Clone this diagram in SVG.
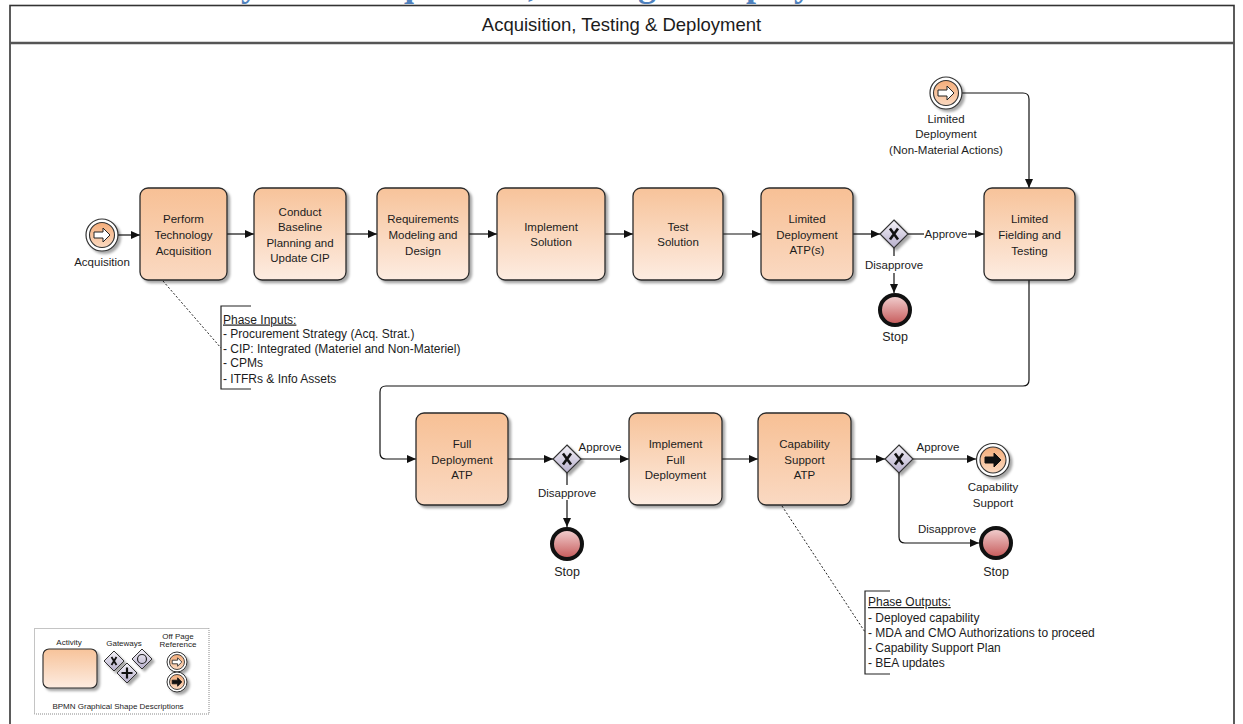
<svg xmlns="http://www.w3.org/2000/svg" width="1243" height="724" viewBox="0 0 1243 724">
  <defs>
    <linearGradient id="taskA" x1="0" y1="0" x2="0" y2="1">
      <stop offset="0" stop-color="#f7c095"/>
      <stop offset="1" stop-color="#fad9c2"/>
    </linearGradient>
    <linearGradient id="taskB" x1="0" y1="0" x2="0" y2="1">
      <stop offset="0" stop-color="#f7c39a"/>
      <stop offset="1" stop-color="#fdece1"/>
    </linearGradient>
    <linearGradient id="gate" x1="0" y1="0" x2="0" y2="1">
      <stop offset="0" stop-color="#f4f2f8"/>
      <stop offset="1" stop-color="#b7afcc"/>
    </linearGradient>
    <linearGradient id="evt" x1="0" y1="0" x2="0" y2="1">
      <stop offset="0" stop-color="#f4ad7a"/>
      <stop offset="1" stop-color="#fbd9c0"/>
    </linearGradient>
    <linearGradient id="stop" x1="0" y1="0" x2="0" y2="1">
      <stop offset="0" stop-color="#f3d3d3"/>
      <stop offset="1" stop-color="#c55757"/>
    </linearGradient>
    <filter id="shadow" x="-20%" y="-20%" width="150%" height="150%">
      <feDropShadow dx="2.5" dy="2.5" stdDeviation="1.3" flood-color="#000" flood-opacity="0.35"/>
    </filter>
    <marker id="arrow" markerUnits="userSpaceOnUse" markerWidth="9" markerHeight="8" refX="9" refY="4" orient="auto">
      <path d="M0,0 L9,4 L0,8 Z" fill="#111"/>
    </marker>
    <!-- block arrow used inside the off-page reference events -->
    <path id="blockArrow" d="M-8,-3 H1 V-7 L8,0 L1,7 V3 H-8 Z"/>
  </defs>

  <style>
    .frame { fill: none; stroke: #333; stroke-width: 1.6; }
    .task { stroke: #2a2a2a; stroke-width: 1.3; filter: url(#shadow); }
    .a { fill: url(#taskA); }
    .b { fill: url(#taskB); }
    .gw { fill: url(#gate); stroke: #333; stroke-width: 1.2; filter: url(#shadow); }
    .gx { stroke: #111; stroke-width: 2.6; stroke-linecap: butt; }
    .ring { fill: #fff; stroke: #333; stroke-width: 1.2; filter: url(#shadow); }
    .inner { fill: url(#evt); stroke: #333; stroke-width: 1.1; }
    .stopc { fill: url(#stop); stroke: #111; stroke-width: 4; }
    .conn { fill: none; stroke: #111; stroke-width: 1.2; }
    .assoc { fill: none; stroke: #222; stroke-width: 1; stroke-dasharray: 2 2; }
    .brk { fill: none; stroke: #222; stroke-width: 1.2; }
    text { font-family: "Liberation Sans", Arial, sans-serif; fill: #1c1c1c; }
    .lbl { font-size: 11.5px; text-anchor: middle; }
    .stoplbl { font-size: 12.5px; text-anchor: middle; }
    .note { font-size: 12px; }
    .leg { font-size: 8px; text-anchor: middle; }
  </style>

  <!-- page title (runs off the top of the sheet) -->
  <text x="221" y="-4" style="font-family:'Liberation Serif','Times New Roman',serif;font-size:36px;font-weight:bold;fill:#4f81bd">Systems Acquisition, Testing &amp; Deployment</text>

  <!-- pool frame and header -->
  <g id="pool">
    <rect class="frame" x="10" y="5.5" width="1224" height="740"/>
    <line x1="10" y1="43" x2="1234" y2="43" stroke="#555" stroke-width="2.5"/>
    <text x="621.5" y="31" style="font-size:18.5px;text-anchor:middle">Acquisition, Testing &amp; Deployment</text>
  </g>

  <!-- connectors -->
  <g id="connectors">
    <path class="conn" d="M118,235 H140" marker-end="url(#arrow)"/>
    <path class="conn" d="M227,234 H254" marker-end="url(#arrow)"/>
    <path class="conn" d="M346,234 H377" marker-end="url(#arrow)"/>
    <path class="conn" d="M469,234 H497" marker-end="url(#arrow)"/>
    <path class="conn" d="M605,234 H633" marker-end="url(#arrow)"/>
    <path class="conn" d="M723,234 H761" marker-end="url(#arrow)"/>
    <path class="conn" d="M853,234 H880" marker-end="url(#arrow)"/>
    <path class="conn" d="M908,234 H924"/>
    <path class="conn" d="M968,234 H984" marker-end="url(#arrow)"/>
    <text class="lbl" x="946" y="238">Approve</text>
    <path class="conn" d="M894,248 V256"/>
    <path class="conn" d="M894,273 V293" marker-end="url(#arrow)"/>
    <text class="lbl" x="894" y="269">Disapprove</text>
    <path class="conn" d="M962,93 H1023 Q1029,93 1029,99 V188" marker-end="url(#arrow)"/>
    <path class="conn" d="M1029,280 V380 Q1029,386 1023,386 H386 Q380,386 380,392 V453 Q380,459 386,459 H416" marker-end="url(#arrow)"/>
    <path class="conn" d="M508,459 H553" marker-end="url(#arrow)"/>
    <path class="conn" d="M581,459 H629" marker-end="url(#arrow)"/>
    <text class="lbl" x="600" y="451">Approve</text>
    <path class="conn" d="M567,473 V485"/>
    <path class="conn" d="M567,500 V527" marker-end="url(#arrow)"/>
    <text class="lbl" x="567" y="497">Disapprove</text>
    <path class="conn" d="M722,459 H758" marker-end="url(#arrow)"/>
    <path class="conn" d="M851,459 H885" marker-end="url(#arrow)"/>
    <path class="conn" d="M913,459 H976" marker-end="url(#arrow)"/>
    <text class="lbl" x="938" y="451">Approve</text>
    <path class="conn" d="M899,473 V537 Q899,543 905,543 H979" marker-end="url(#arrow)"/>
    <text class="lbl" x="947" y="533">Disapprove</text>
    <!-- associations to the annotations -->
    <path class="assoc" d="M163,281 L221,348"/>
    <path class="assoc" d="M782,506 L865,632"/>
  </g>

  <!-- events -->
  <g id="evt-acquisition">
    <circle class="ring" cx="102" cy="235" r="16"/>
    <circle class="inner" cx="102" cy="235" r="12.5"/>
    <use href="#blockArrow" x="102" y="235" fill="#fff" stroke="#222" stroke-width="1"/>
    <text class="lbl" x="102" y="266">Acquisition</text>
  </g>
  <g id="evt-limited-deployment">
    <circle class="ring" cx="946" cy="93" r="16"/>
    <circle class="inner" cx="946" cy="93" r="12.5"/>
    <use href="#blockArrow" x="946" y="93" fill="#fff" stroke="#222" stroke-width="1"/>
    <text class="lbl" x="946" y="123">Limited</text>
    <text class="lbl" x="946" y="138">Deployment</text>
    <text class="lbl" x="946" y="154">(Non-Material Actions)</text>
  </g>
  <g id="evt-capability-support">
    <circle class="ring" cx="993" cy="460" r="16.5"/>
    <circle class="inner" cx="993" cy="460" r="13"/>
    <use href="#blockArrow" x="993" y="460" fill="#111" stroke="#111" stroke-width="1"/>
    <text class="lbl" x="993" y="491">Capability</text>
    <text class="lbl" x="993" y="507">Support</text>
  </g>
  <g id="stop-1">
    <circle class="stopc" cx="895" cy="310" r="15"/>
    <text class="stoplbl" x="895" y="341">Stop</text>
  </g>
  <g id="stop-2">
    <circle class="stopc" cx="567" cy="544" r="15"/>
    <text class="stoplbl" x="567" y="576">Stop</text>
  </g>
  <g id="stop-3">
    <circle class="stopc" cx="996" cy="543" r="15"/>
    <text class="stoplbl" x="996" y="576">Stop</text>
  </g>

  <!-- activities, row 1 -->
  <g id="task-perform-technology-acquisition">
    <rect class="task a" x="140" y="188" width="87" height="92" rx="8"/>
    <text class="lbl" x="183.5" y="223">Perform</text>
    <text class="lbl" x="183.5" y="239">Technology</text>
    <text class="lbl" x="183.5" y="255">Acquisition</text>
  </g>
  <g id="task-baseline-planning">
    <rect class="task b" x="254" y="188" width="92" height="92" rx="8"/>
    <text class="lbl" x="300" y="216">Conduct</text>
    <text class="lbl" x="300" y="231">Baseline</text>
    <text class="lbl" x="300" y="246.5">Planning and</text>
    <text class="lbl" x="300" y="262">Update CIP</text>
  </g>
  <g id="task-requirements">
    <rect class="task b" x="377" y="188" width="92" height="92" rx="8"/>
    <text class="lbl" x="423" y="223">Requirements</text>
    <text class="lbl" x="423" y="239">Modeling and</text>
    <text class="lbl" x="423" y="255">Design</text>
  </g>
  <g id="task-implement-solution">
    <rect class="task b" x="497" y="188" width="108" height="92" rx="8"/>
    <text class="lbl" x="551" y="231">Implement</text>
    <text class="lbl" x="551" y="246">Solution</text>
  </g>
  <g id="task-test-solution">
    <rect class="task b" x="633" y="188" width="90" height="92" rx="8"/>
    <text class="lbl" x="678" y="231">Test</text>
    <text class="lbl" x="678" y="246">Solution</text>
  </g>
  <g id="task-limited-deployment-atp">
    <rect class="task a" x="761" y="188" width="92" height="92" rx="8"/>
    <text class="lbl" x="807" y="223">Limited</text>
    <text class="lbl" x="807" y="239">Deployment</text>
    <text class="lbl" x="807" y="254">ATP(s)</text>
  </g>
  <g id="gw-limited-deployment">
    <path class="gw" d="M894,220 L908,234 L894,248 L880,234 Z"/>
    <path class="gx" d="M890,228.5 L898,239.5 M898,228.5 L890,239.5"/>
  </g>
  <g id="task-limited-fielding">
    <rect class="task b" x="984" y="188" width="91" height="92" rx="8"/>
    <text class="lbl" x="1029.5" y="223">Limited</text>
    <text class="lbl" x="1029.5" y="239">Fielding and</text>
    <text class="lbl" x="1029.5" y="255">Testing</text>
  </g>

  <!-- activities, row 2 -->
  <g id="task-full-deployment-atp">
    <rect class="task a" x="416" y="413" width="92" height="92" rx="8"/>
    <text class="lbl" x="462" y="448">Full</text>
    <text class="lbl" x="462" y="463.5">Deployment</text>
    <text class="lbl" x="462" y="479">ATP</text>
  </g>
  <g id="gw-full-deployment">
    <path class="gw" d="M567,445 L581,459 L567,473 L553,459 Z"/>
    <path class="gx" d="M563,453.5 L571,464.5 M571,453.5 L563,464.5"/>
  </g>
  <g id="task-implement-full-deployment">
    <rect class="task b" x="629" y="413" width="93" height="92" rx="8"/>
    <text class="lbl" x="675.5" y="448">Implement</text>
    <text class="lbl" x="675.5" y="463.5">Full</text>
    <text class="lbl" x="675.5" y="479">Deployment</text>
  </g>
  <g id="task-capability-support-atp">
    <rect class="task a" x="758" y="413" width="93" height="92" rx="8"/>
    <text class="lbl" x="804.5" y="448">Capability</text>
    <text class="lbl" x="804.5" y="463.5">Support</text>
    <text class="lbl" x="804.5" y="479">ATP</text>
  </g>
  <g id="gw-capability-support">
    <path class="gw" d="M899,445 L913,459 L899,473 L885,459 Z"/>
    <path class="gx" d="M895,453.5 L903,464.5 M903,453.5 L895,464.5"/>
  </g>

  <!-- annotations -->
  <g id="note-phase-inputs">
    <path class="brk" d="M251,306 H221 V389 H251"/>
    <text class="note" x="223" y="323.5" text-decoration="underline">Phase Inputs:</text>
    <text class="note" x="223" y="338">- Procurement Strategy (Acq. Strat.)</text>
    <text class="note" x="223" y="352.5">- CIP: Integrated (Materiel and Non-Materiel)</text>
    <text class="note" x="223" y="367">- CPMs</text>
    <text class="note" x="223" y="382.5">- ITFRs &amp; Info Assets</text>
  </g>
  <g id="note-phase-outputs">
    <path class="brk" d="M890,591 H865 V674 H890"/>
    <text class="note" x="868" y="606" text-decoration="underline">Phase Outputs:</text>
    <text class="note" x="868" y="621.5">- Deployed capability</text>
    <text class="note" x="868" y="636.5">- MDA and CMO Authorizations to proceed</text>
    <text class="note" x="868" y="651.5">- Capability Support Plan</text>
    <text class="note" x="868" y="667">- BEA updates</text>
  </g>

  <!-- shape legend -->
  <g id="legend">
    <rect x="34.5" y="628.5" width="174.5" height="85.5" fill="none" stroke="#888" stroke-width="1" stroke-dasharray="1 1"/>
    <text class="leg" x="69" y="645">Activity</text>
    <rect class="task b" x="43" y="649" width="54" height="39" rx="6" style="stroke-width:1.1"/>
    <text class="leg" x="124" y="646">Gateways</text>
    <path class="gw" d="M114,651 L124,661 L114,671 L104,661 Z" style="stroke-width:1"/>
    <path class="gx" d="M111.5,657 L116.5,665 M116.5,657 L111.5,665" style="stroke-width:1.8"/>
    <path class="gw" d="M142,649 L152,659 L142,669 L132,659 Z" style="stroke-width:1"/>
    <circle cx="142" cy="659" r="4.5" fill="none" stroke="#222" stroke-width="1.2"/>
    <path class="gw" d="M127,663 L137,673 L127,683 L117,673 Z" style="stroke-width:1"/>
    <path d="M127,667.5 V678.5 M121.5,673 H132.5" stroke="#111" stroke-width="2.2"/>
    <text class="leg" x="178" y="639">Off Page</text>
    <text class="leg" x="178" y="647">Reference</text>
    <circle class="ring" cx="177" cy="662" r="10" style="stroke-width:1"/>
    <circle class="inner" cx="177" cy="662" r="7.5" style="stroke-width:0.9"/>
    <use href="#blockArrow" transform="translate(177,662) scale(0.6)" fill="#fff" stroke="#222" stroke-width="1.4"/>
    <circle class="ring" cx="177" cy="682" r="10" style="stroke-width:1"/>
    <circle class="inner" cx="177" cy="682" r="7.5" style="stroke-width:0.9"/>
    <use href="#blockArrow" transform="translate(177,682) scale(0.6)" fill="#111" stroke="#111" stroke-width="1.4"/>
    <text class="leg" x="118" y="709">BPMN Graphical Shape Descriptions</text>
  </g>
</svg>
